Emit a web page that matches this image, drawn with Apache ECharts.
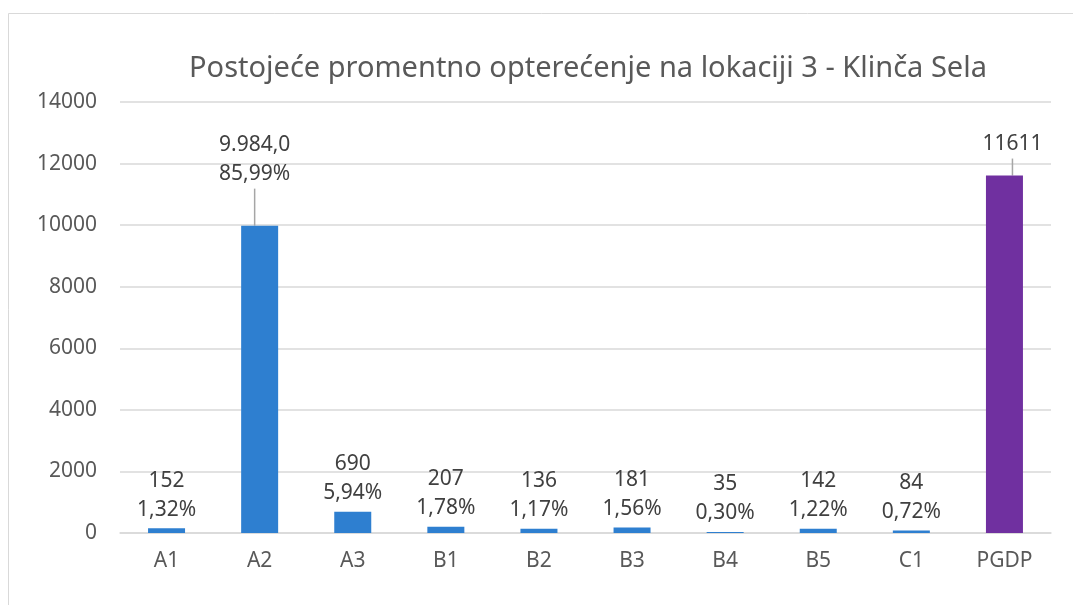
<!DOCTYPE html>
<html>
<head>
<meta charset="utf-8">
<script src="https://cdn.jsdelivr.net/npm/echarts@6/dist/echarts.min.js"></script>
<style>
  html, body { margin: 0; padding: 0; background: #fff; }
  #chart { width: 1073px; height: 605px; }
</style>
</head>
<body>
<div id="chart"></div>
<script>
// podaci
const categories = ['A1', 'A2', 'A3', 'B1', 'B2', 'B3', 'B4', 'B5', 'C1', 'PGDP'];
const values = [152, 9984, 690, 207, 136, 181, 35, 142, 84, 11611];
const valueLabels = ['152', '9.984,0', '690', '207', '136', '181', '35', '142', '84', '11611'];
const percentLabels = ['1,32%', '85,99%', '5,94%', '1,78%', '1,17%', '1,56%', '0,30%', '1,22%', '0,72%', ''];
const yTicks = [0, 2000, 4000, 6000, 8000, 10000, 12000, 14000];

const blue = '#2e7fd0';
const purple = '#7030a0';
const textColor = '#595959';
const font = '"Noto Sans", Arial, sans-serif';

const chart = echarts.init(document.getElementById('chart'));

const seriesData = values.map((v, i) => ({
  value: v,
  itemStyle: { color: categories[i] === 'PGDP' ? purple : blue },
  labelLine: { show: i === 1 || i === 9 }
}));

chart.setOption({
  backgroundColor: '#fff',
  animation: false,
  graphic: [{
    type: 'rect',
    shape: { x: 8.5, y: 13.5, width: 1200, height: 800 },
    style: { fill: 'none', stroke: '#d9d9d9', lineWidth: 1 },
    silent: true
  }],
  title: {
    text: 'Postojeće promentno opterećenje na lokaciji 3 - Klinča Sela',
    left: 583,
    textAlign: 'center',
    top: 49,
    textStyle: { color: textColor, fontSize: 29, fontWeight: 'normal', fontFamily: font }
  },
  grid: { left: 120, right: 22, top: 102, bottom: 72, containLabel: false },
  xAxis: {
    type: 'category',
    data: categories,
    axisLine: { lineStyle: { color: '#d9d9d9', width: 1.5 } },
    axisTick: { show: false },
    axisLabel: { color: textColor, fontSize: 21, fontFamily: font, margin: 18 }
  },
  yAxis: {
    type: 'value',
    min: yTicks[0],
    max: yTicks[yTicks.length - 1],
    interval: 2000,
    axisLine: { show: false },
    axisTick: { show: false },
    splitLine: { lineStyle: { color: '#d9d9d9', width: 1.5 } },
    axisLabel: { color: textColor, fontSize: 21, fontFamily: font, margin: 23, formatter: v => String(v) }
  },
  series: [{
    type: 'bar',
    data: seriesData,
    barWidth: 37,
    label: {
      show: true,
      position: 'top',
      distance: 4,
      color: '#404040',
      fontSize: 21,
      lineHeight: 29,
      fontFamily: font,
      formatter: p => percentLabels[p.dataIndex]
        ? valueLabels[p.dataIndex] + '\n' + percentLabels[p.dataIndex]
        : valueLabels[p.dataIndex]
    },
    labelLine: { lineStyle: { color: '#a6a6a6', width: 1.5 } },
    labelLayout: function (p) {
      if (p.dataIndex === 1) return { dx: -5, dy: -33 };
      if (p.dataIndex === 9) return { dx: 8, dy: -13 };
      return {};
    }
  }]
});
</script>
</body>
</html>
